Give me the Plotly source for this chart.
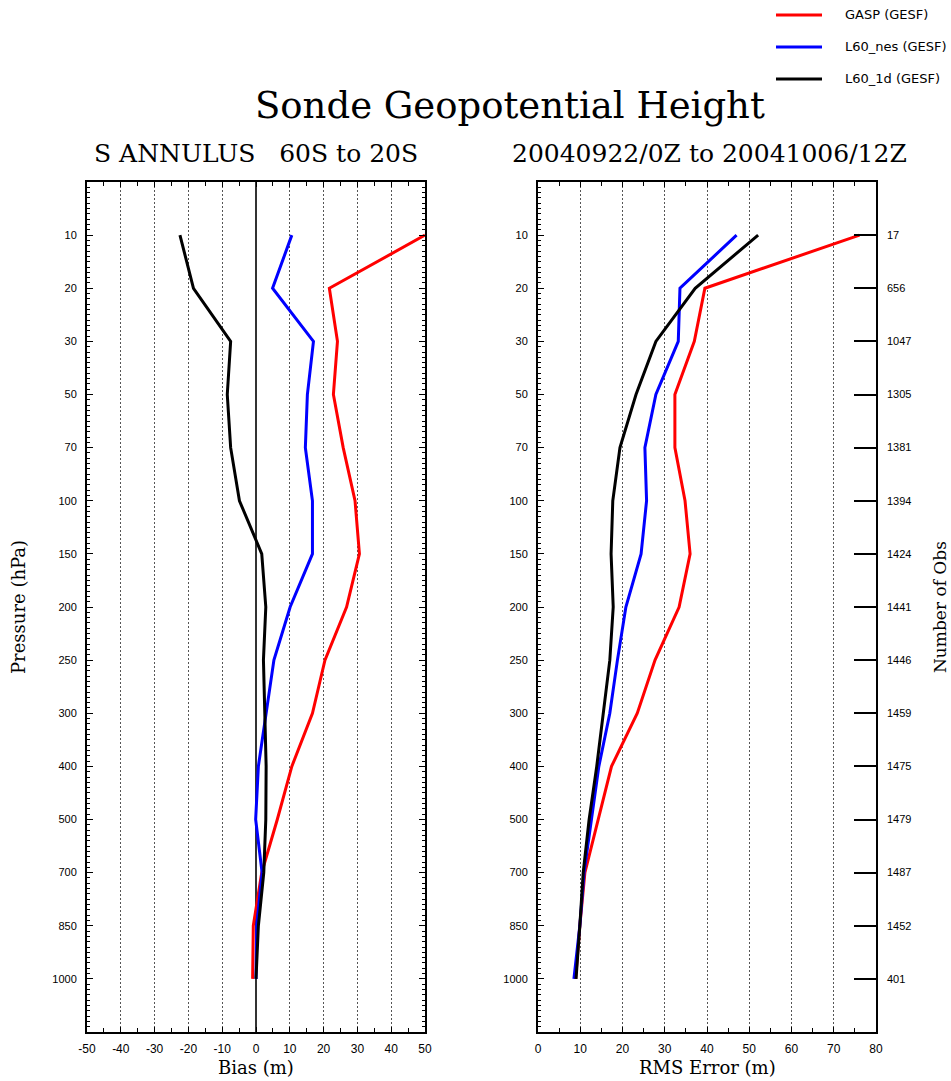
import plotly.graph_objects as go

W, H = 951, 1081

pressure_levels = ["10", "20", "30", "50", "70", "100", "150", "200", "250", "300", "400", "500", "700", "850", "1000"]
obs_counts = [17, 656, 1047, 1305, 1381, 1394, 1424, 1441, 1446, 1459, 1475, 1479, 1487, 1452, 401]

series_names = ["GASP (GESF)", "L60_nes (GESF)", "L60_1d (GESF)"]
series_colors = ["#ff0000", "#0000ff", "#000000"]

bias_gasp = [50, 21.7, 24.1, 22.9, 25.8, 29.3, 30.6, 26.8, 20.4, 16.7, 10.6, 6.3, 1.7, -0.8, -1.0]
bias_nes = [10.6, 4.9, 17.0, 15.2, 14.6, 16.7, 16.7, 10.1, 5.3, 2.9, 0.7, -0.1, 1.8, 0.2, 0.0]
bias_1d = [-22.5, -18.5, -7.5, -8.5, -7.5, -4.9, 1.7, 2.9, 2.2, 2.5, 3.0, 2.9, 2.3, 0.7, 0.0]

rms_gasp = [76.1, 39.5, 37.0, 32.4, 32.4, 34.8, 36.0, 33.4, 27.7, 23.5, 17.4, 14.3, 11.1, 9.9, 8.9]
rms_nes = [47.0, 33.6, 33.2, 27.9, 25.3, 25.7, 24.4, 20.8, 18.8, 17.0, 14.4, 12.7, 10.9, 9.9, 8.5]
rms_1d = [52.1, 37.2, 27.9, 23.2, 19.4, 17.7, 17.3, 17.8, 17.0, 15.5, 13.9, 12.1, 10.7, 9.9, 9.0]

bias_ticks = [-50, -40, -30, -20, -10, 0, 10, 20, 30, 40, 50]
rms_ticks = [0, 10, 20, 30, 40, 50, 60, 70, 80]

title_text = "Sonde Geopotential Height"
left_subtitle = "S ANNULUS&nbsp;&nbsp;&nbsp;60S to 20S"
right_subtitle = "20040922/0Z to 20041006/12Z"

idx = list(range(len(pressure_levels)))
minor_y = [i / 10 for i in range(-10, 151) if i % 10 != 0]

def px(x):
    return x / W

def py(y):
    return 1 - y / H

xl0, xl1 = 87, 425
xr0, xr1 = 538, 876
yt, yb = 182, 1032

fig = go.Figure()

bias_series = [bias_gasp, bias_nes, bias_1d]
rms_series = [rms_gasp, rms_nes, rms_1d]

for name, col, vals in zip(series_names, series_colors, bias_series):
    fig.add_trace(go.Scatter(x=vals, y=idx, mode="lines", name=name,
                             line=dict(color=col, width=3), xaxis="x", yaxis="y",
                             showlegend=False))
for name, col, vals in zip(series_names, series_colors, rms_series):
    fig.add_trace(go.Scatter(x=vals, y=idx, mode="lines", name=name,
                             line=dict(color=col, width=3), xaxis="x2", yaxis="y2",
                             showlegend=False))
fig.add_trace(go.Scatter(x=[0] * len(idx), y=idx, mode="markers", marker=dict(opacity=0),
                         xaxis="x2", yaxis="y3", showlegend=False, hoverinfo="skip"))

sans = "Liberation Sans, Arial, sans-serif"
ytick_font = dict(family=sans, size=11, color="#000")
xtick_font = dict(family=sans, size=12, color="#000")
serif = "DejaVu Serif, serif"

common_x = dict(
    showline=True, linecolor="#000", linewidth=2, mirror="ticks",
    tickmode="array", automargin=False,
    ticks="inside", ticklen=5, tickcolor="#000", tickwidth=1,
    showgrid=True, gridcolor="#555", gridwidth=1, griddash="2px,2px",
    tickfont=xtick_font, fixedrange=True, ticklabelstandoff=5,
    minor=dict(tickmode="linear", tick0=0, dtick=5, ticks="inside", ticklen=4,
               tickcolor="#000", tickwidth=1, showgrid=False),
)
common_y = dict(
    showline=True, linecolor="#000", linewidth=2, automargin=False,
    range=[15, -1], tickmode="array", tickvals=idx, ticktext=pressure_levels,
    ticks="inside", ticklen=6, tickcolor="#000", tickwidth=1,
    showgrid=False, zeroline=False, fixedrange=True, tickfont=ytick_font, ticklabelstandoff=6,
    minor=dict(tickmode="array", tickvals=minor_y, ticks="inside", ticklen=3,
               tickcolor="#000", tickwidth=1, showgrid=False),
)

fig.update_layout(
    width=W, height=H, autosize=False,
    margin=dict(l=0, r=0, t=0, b=0, pad=0, autoexpand=False),
    paper_bgcolor="white", plot_bgcolor="white",
    showlegend=False,
    xaxis=dict(domain=[px(xl0), px(xl1)], range=[-50, 50],
               tickvals=bias_ticks, ticktext=[str(t) for t in bias_ticks],
               zeroline=True, zerolinecolor="#333", zerolinewidth=2,
               anchor="y", **common_x),
    yaxis=dict(domain=[py(yb), py(yt)], anchor="x", mirror="ticks", **common_y),
    xaxis2=dict(domain=[px(xr0), px(xr1)], range=[0, 80],
                tickvals=rms_ticks, ticktext=[str(t) for t in rms_ticks], zeroline=False,
                anchor="y2", **common_x),
    yaxis2=dict(domain=[py(yb), py(yt)], anchor="x2", mirror=True, **common_y),
    yaxis3=dict(overlaying="y2", anchor="x2", side="right", range=[15, -1],
                tickmode="array", tickvals=idx, ticktext=[str(c) for c in obs_counts],
                ticks="inside", ticklen=22, tickcolor="#000", tickwidth=2, automargin=False,
                showline=False, showgrid=False, zeroline=False,
                tickfont=dict(family=sans, size=11, color="#000"),
                ticklabelstandoff=10, fixedrange=True),
)

annotations = [
    dict(text=title_text, x=px(510), y=py(105), xref="paper", yref="paper",
         showarrow=False, font=dict(family=serif, size=37, color="#000"),
         xanchor="center", yanchor="middle"),
    dict(text=left_subtitle, x=px(256), y=py(154), xref="paper", yref="paper",
         showarrow=False, font=dict(family=serif, size=25, color="#000"),
         xanchor="center", yanchor="middle"),
    dict(text=right_subtitle, x=px(709), y=py(154), xref="paper", yref="paper",
         showarrow=False, font=dict(family=serif, size=25, color="#000"),
         xanchor="center", yanchor="middle"),
    dict(text="Bias (m)", x=px(256), y=py(1067), xref="paper", yref="paper",
         showarrow=False, font=dict(family=serif, size=18, color="#000"),
         xanchor="center", yanchor="middle"),
    dict(text="RMS Error (m)", x=px(707), y=py(1067), xref="paper", yref="paper",
         showarrow=False, font=dict(family=serif, size=18, color="#000"),
         xanchor="center", yanchor="middle"),
    dict(text="Pressure (hPa)", x=px(18), y=py(607), xref="paper", yref="paper",
         showarrow=False, textangle=-90, font=dict(family=serif, size=18, color="#000"),
         xanchor="center", yanchor="middle"),
    dict(text="Number of Obs", x=px(940), y=py(607), xref="paper", yref="paper",
         showarrow=False, textangle=-90, font=dict(family=serif, size=17, color="#000"),
         xanchor="center", yanchor="middle"),
]

shapes = []
legend_y = [15, 47, 79]
for name, col, ly in zip(series_names, series_colors, legend_y):
    shapes.append(dict(type="line", xref="paper", yref="paper",
                       x0=px(776), x1=px(822), y0=py(ly), y1=py(ly),
                       line=dict(color=col, width=3)))
    annotations.append(dict(text=name, x=px(843), y=py(ly), xref="paper", yref="paper",
                            showarrow=False, xanchor="left", yanchor="middle",
                            font=dict(family="DejaVu Sans, sans-serif", size=13, color="#000")))

fig.update_layout(annotations=annotations, shapes=shapes)

fig.write_html(
    "out.html",
    config={"displayModeBar": False, "responsive": False},
    post_script="document.body.style.margin='0';document.body.style.overflow='hidden';"
                "document.documentElement.style.overflow='hidden';",
)
